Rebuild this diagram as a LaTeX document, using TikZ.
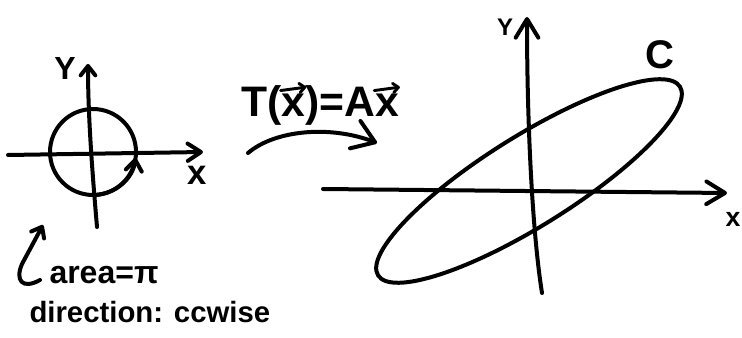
\documentclass[tikz,border=0pt]{standalone}
\usepackage{fontspec}
\setmainfont{Liberation Sans}
\usetikzlibrary{arrows.meta}

\tikzset{every picture/.style={line width=0.75pt}}
\tikzset{
  pen/.style={line width=3pt,line cap=round,line join=round},
  tinybarb/.style={-{Straight Barb[round,length=7pt,width=11pt]}},
  medbarb/.style={-{Straight Barb[round,length=10pt,width=13pt]}},
  axisbarb/.style={-{Straight Barb[round,length=14pt,width=17pt]}},
  mapbarb/.style={-{Straight Barb[round,length=16pt,width=22pt]}},
  hand/.style={inner sep=0.75pt},
}
% x with a drawn vector arrow over it
\newcommand{\vecx}{\ooalign{x\cr\hidewidth\raisebox{0.62em}{\tikz[baseline]\draw[line width=2.2pt,line cap=round,-{Straight Barb[round,length=4pt,width=7pt]}] (0,0) -- (0.6em,0.08em);}\hidewidth\cr}}

\begin{document}
\begin{tikzpicture}[x=0.75pt,y=0.75pt,yscale=-1,xscale=1]
\useasboundingbox (0,0) rectangle (742,338);

%Shape: Circle [unit disk]
\draw[pen] (93,152) circle [radius=43];
%Shape: Axes [left plane]
\draw[pen,medbarb] (8,155) -- (203,152);
\draw[pen,tinybarb] (97,227) .. controls (93,180) and (88,120) .. (88,64);
%Shape: Arc [orientation of the circle]
\draw[pen,-{Straight Barb[round,length=8pt,width=12pt]}] (93,152) ++(88:43) arc [start angle=88,end angle=8,radius=43];
%Shape: Hook [pointer to the notes]
\coordinate (hook_end) at (43,225);
\draw[pen,tinybarb] (40,280) .. controls (22,290) and (15,280) .. (22,264) -- (hook_end);

%Shape: Curve [the map T]
\coordinate (map_from) at (248,153);
\coordinate (map_to) at (377,143);
\draw[pen,mapbarb] (map_from) .. controls (275,130) and (330,125) .. (map_to);

%Shape: Axes [right plane]
\draw[pen,axisbarb] (323,189) -- (727,193);
\draw[pen,axisbarb] (542,293) .. controls (532,230) and (527,120) .. (527,17);
%Shape: Ellipse [image curve C]
\draw[pen,rotate around={-32:(529,181)}] (529,181) ellipse [x radius=178,y radius=45];

% Text Node
\draw (65,68) node [hand,font=\bfseries\fontsize{24}{28}\selectfont] (lbl_y1) {Y};
% Text Node
\draw (197,175) node [hand,font=\bfseries\fontsize{26}{28}\selectfont] (lbl_x1) {x};
% Text Node
\draw (240,117) node [hand,anchor=base west,font=\bfseries\fontsize{32}{38}\selectfont] (lbl_map) {T(\vecx)=A\vecx};
% Text Node
\draw (48,283) node [hand,anchor=base west,font=\bfseries\fontsize{24}{30}\selectfont] (lbl_area) {area=π};
% Text Node
\draw (28,322) node [hand,anchor=base west,font=\bfseries\fontsize{22}{30}\selectfont] (lbl_dir) {direction: ccwise};
% Text Node
\draw (505,27) node [hand,font=\bfseries\fontsize{18}{22}\selectfont] (lbl_y2) {Y};
% Text Node
\draw (733,219) node [hand,font=\bfseries\fontsize{20}{24}\selectfont] (lbl_x2) {x};
% Text Node
\draw (660,55) node [hand,font=\bfseries\fontsize{30}{34}\selectfont] (lbl_c) {C};

\end{tikzpicture}
\end{document}
